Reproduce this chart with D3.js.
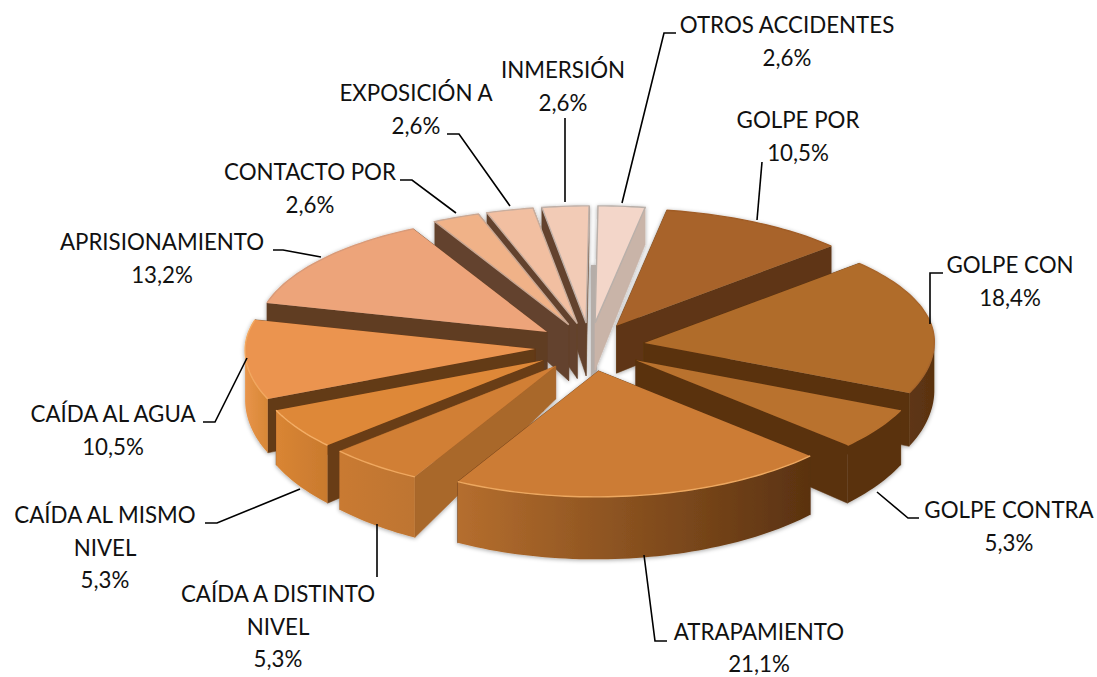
<!DOCTYPE html>
<html>
<head>
	<meta http-equiv="Content-Type" content="text/html;charset=utf-8">
	<title>Accidentes</title>
	<script src="https://d3js.org/d3.v7.min.js"></script>
	<style type="text/css">
		html, body { margin: 0; padding: 0; background: #fff; }
		svg { display: block; }
		text { font-family: Lato, "Open Sans", sans-serif; font-size: 24px; fill: #111; text-anchor: middle; }
		.leader { fill: none; stroke: #000; stroke-width: 1.6px; }
	</style>
</head>
<body>
	<svg width="1097" height="677"></svg>

	<script type="text/javascript">
		// data, clockwise from 12 o'clock
		var categories = ["OTROS ACCIDENTES", "GOLPE POR", "GOLPE CON", "GOLPE CONTRA", "ATRAPAMIENTO",
			"CAÍDA A DISTINTO NIVEL", "CAÍDA AL MISMO NIVEL", "CAÍDA AL AGUA", "APRISIONAMIENTO",
			"CONTACTO POR", "EXPOSICIÓN A", "INMERSIÓN"];
		var values = [2.6, 10.5, 18.4, 5.3, 21.1, 5.3, 5.3, 10.5, 13.2, 2.6, 2.6, 2.6];

		// label layout: x is the centre, y the first baseline
		var labelLines = [["OTROS ACCIDENTES"], ["GOLPE POR"], ["GOLPE CON"], ["GOLPE CONTRA"], ["ATRAPAMIENTO"],
			["CAÍDA A DISTINTO", "NIVEL"], ["CAÍDA AL MISMO", "NIVEL"], ["CAÍDA AL AGUA"], ["APRISIONAMIENTO"],
			["CONTACTO POR"], ["EXPOSICIÓN A"], ["INMERSIÓN"]];
		var labelX = [787, 798, 1010, 1009, 759, 278, 105, 113, 162, 310, 416, 563];
		var labelY = [33, 128, 273, 518, 639.5, 602, 523, 422, 250, 180, 101, 78];
		var lineGap = 32.5;
		var leaders = [
			[[622, 203], [664, 33], [676, 33]],
			[[757, 220], [762, 162]],
			[[930, 324], [930, 273], [943, 273]],
			[[877, 492], [908, 518], [919, 518]],
			[[644, 555], [655, 641], [667, 641]],
			[[377, 524], [377, 577]],
			[[300, 489], [217, 523], [205, 523]],
			[[247, 358], [215, 422], [203, 422]],
			[[321, 257], [283, 250], [273, 250]],
			[[456, 213], [412, 180], [400, 180]],
			[[510, 206], [459, 134], [447, 134]],
			[[565, 202], [565, 118]]
		];

		// slice colours
		var topColors = ["#F3D6C9", "#A8642B", "#B06C2B", "#B9722E", "#CC7C35", "#D17F35",
			"#DE8838", "#EB9450", "#EDA47A", "#F0B288", "#F2BFA1", "#F2CBB6"];
		var sideColors = ["#C9B4A8", "#5E3613", "#5A3210", "#5A3210", "#5A3210", "#A9672B",
			"#693C15", "#643A15", "#613D24", "#63432D", "#63432D", "#63432D"];
		var outerLeft = ["#E8CBBC", "#5E3614", "#5E3614", "#5A3210", "#B56E2E", "#C97A30",
			"#D98534", "#E8944A", "#D99A6E", "#D8A07C", "#D8A98E", "#D8B5A2"];
		var outerRight = ["#E8CBBC", "#5E3614", "#5A3210", "#5A3210", "#5A3210", "#BE7530",
			"#C97A2E", "#D78736", "#D99A6E", "#D8A07C", "#D8A98E", "#D8B5A2"];
		var rimColors = ["#B9B0AA", "#A05C26", "#A8652A", "#B9722E", "#EDA860", "#EFA860",
			"#F4AE66", "#F2A860", "#D99A78", "#C9A793", "#C9AE9E", "#BFB0A8"];
		var outlined = [0, 9, 10, 11];
		var apexDepth = { 5: 33, 9: 56, 10: 55, 11: 53 };

		var svg = d3.select("svg");
		var defs = svg.append("defs");
		var soft = defs.append("filter").attr("id", "soft")
			.attr("x", "-5%").attr("y", "-5%").attr("width", "110%").attr("height", "115%");
		soft.append("feGaussianBlur").attr("stdDeviation", 0.6);
		var shade = defs.append("filter").attr("id", "shade")
			.attr("x", "-5%").attr("y", "-5%").attr("width", "110%").attr("height", "115%");
		shade.append("feDropShadow").attr("dx", 0).attr("dy", 1).attr("stdDeviation", 2)
			.attr("flood-color", "#000").attr("flood-opacity", 0.35);

		// tilted disc: unit coordinates on the disc go to pixels, the near half is a bit longer
		var cx = 590, cy = 347, explode = 55;
		var px = d3.scaleLinear().domain([-1, 1]).range([-290, 290]);
		var py = d3.scaleLinear().domain([-1, 0, 1]).range([-117, 0, 126]);
		var offX = d3.scaleLinear().domain([-1, 1]).range([-explode, explode]);
		var offY = d3.scaleLinear().domain([-1, 1]).range([-explode * 0.44, explode * 0.44]);
		var depth = d3.scaleLinear().domain([320, 480]).range([47, 61]);
		var poly = d3.line();

		// small shear, the reference camera is not quite square to the pie
		function shear(p) { return [p[0] + (cy - p[1]) * 0.025, p[1]]; }

		var pie = d3.pie().sort(null).startAngle(0).endAngle(2 * Math.PI);
		var slices = pie(values).map(function (d, i) {
			var mid = (d.startAngle + d.endAngle) / 2;
			return {
				i: i, a0: d.startAngle, a1: d.endAngle, mid: mid,
				apex: [cx + offX(Math.sin(mid)), cy + offY(-Math.cos(mid))]
			};
		});

		function rimPoint(s, a) {
			return shear([s.apex[0] + px(Math.sin(a)), s.apex[1] + py(-Math.cos(a))]);
		}
		function drop(p) { return [p[0], p[1] + depth(p[1])]; }
		function arcPoints(s, a0, a1) {
			var n = Math.max(4, Math.ceil((a1 - a0) * 40));
			return d3.range(n + 1).map(function (k) {
				return rimPoint(s, a0 + (a1 - a0) * k / n);
			});
		}
		function apexPoint(s) { return shear(s.apex); }
		function sideWall(s, a) {
			var p = rimPoint(s, a), top = apexPoint(s);
			var bottom = apexDepth[s.i] ? [top[0], top[1] + apexDepth[s.i]] : drop(top);
			return [top, p, drop(p), bottom];
		}

		var order = slices.slice().sort(function (a, b) {
			return Math.cos(b.mid) - Math.cos(a.mid);
		});

		var pieG = svg.append("g").attr("filter", "url(#soft)").append("g").attr("filter", "url(#shade)");

		// grey sliver seen in the gap between the two top slices
		pieG.append("rect").attr("x", cx + 1).attr("y", cy - 82).attr("width", 6).attr("height", 113)
			.attr("fill", "#B5ADA8");

		order.forEach(function (s) {
			var arc = arcPoints(s, s.a0, s.a1);
			var g = pieG.append("g");
			var side = sideColors[s.i];
			// the lower radial wall goes last so it stays on top near the apex
			var walls = s.mid < Math.PI ? [s.a0, s.a1] : [s.a1, s.a0];
			walls.forEach(function (a) {
				g.append("path").attr("d", poly(sideWall(s, a)) + "Z")
					.attr("fill", side).attr("stroke", side).attr("stroke-width", 0.5);
			});

			// the outer wall only faces the viewer on the near half
			var front0 = Math.max(s.a0, Math.PI / 2), front1 = Math.min(s.a1, Math.PI * 1.5);
			if (front1 > front0) {
				var wall = arcPoints(s, front0, front1);
				var xs = d3.extent(wall, function (p) { return p[0]; });
				var grad = defs.append("linearGradient").attr("id", "outer" + s.i)
					.attr("gradientUnits", "userSpaceOnUse")
					.attr("x1", xs[0]).attr("x2", xs[1]).attr("y1", 0).attr("y2", 0);
				grad.append("stop").attr("offset", "0%").attr("stop-color", outerLeft[s.i]);
				grad.append("stop").attr("offset", "100%").attr("stop-color", outerRight[s.i]);
				g.append("path").attr("d", poly(wall.concat(wall.map(drop).reverse())) + "Z")
					.attr("fill", "url(#outer" + s.i + ")");
			}

			g.append("path").attr("d", poly([apexPoint(s)].concat(arc)) + "Z").attr("fill", topColors[s.i]);
			var isOutlined = outlined.indexOf(s.i) >= 0;
			g.append("path").attr("d", isOutlined ? poly([apexPoint(s)].concat(arc)) + "Z" : poly(arc))
				.attr("fill", "none").attr("stroke", rimColors[s.i]).attr("stroke-width", 1.4);
		});

		// leaders
		svg.append("g").selectAll("path").data(leaders).enter().append("path")
			.attr("class", "leader")
			.attr("d", function (d) { return poly(d); });

		// labels, squeezed a little because Calibri is narrower than Lato
		var fmt = function (v) { return v.toFixed(1).replace(".", ",") + "%"; };
		var labels = svg.append("g").selectAll("g").data(categories).enter().append("g");
		labels.each(function (c, i) {
			var lines = labelLines[i].concat([fmt(values[i])]);
			d3.select(this).selectAll("text").data(lines).enter().append("text")
				.attr("transform", function (t, k) {
					return "translate(" + labelX[i] + "," + (labelY[i] + k * lineGap) + ") scale(0.93,1)";
				})
				.text(function (t) { return t; });
		});
	</script>
</body>
</html>
